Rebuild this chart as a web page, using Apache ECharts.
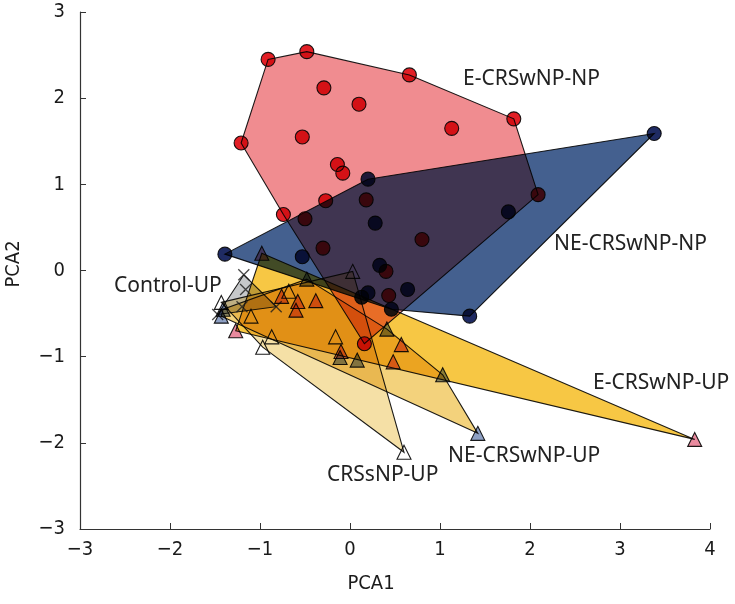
<!DOCTYPE html>
<html><head><meta charset="utf-8">
<script src="https://cdn.jsdelivr.net/npm/echarts@6/dist/echarts.min.js"></script>
<style>html,body{margin:0;padding:0;background:#fff}#c{width:735px;height:604px}</style>
</head><body><div id="c"></div>
<script>
// ---- data (PCA1, PCA2) ----
const eNP = [[-1.21,1.48],[-0.91,2.45],[-0.48,2.54],[-0.29,2.12],[0.10,1.93],[0.66,2.27],[1.13,1.65],[1.82,1.76],
  [-0.53,1.55],[-0.14,1.23],[-0.08,1.13],[-0.74,0.65],[-0.27,0.81],[-0.50,0.60],[0.18,0.82],[-0.30,0.26],
  [0.80,0.36],[2.09,0.88],[0.40,-0.01],[0.43,-0.29],[0.16,-0.85]];
const neNP = [[-1.39,0.19],[-0.53,0.16],[0.20,1.06],[0.28,0.55],[1.76,0.68],[3.38,1.59],[0.33,0.06],
  [0.64,-0.22],[0.20,-0.26],[0.13,-0.31],[0.46,-0.45],[1.33,-0.53]];
const controlUP = [[-1.18,-0.05],[-1.16,-0.22],[-1.20,-0.42],[-0.82,-0.42],[-1.47,-0.51]];
const eUP = [[-0.98,0.20],[-1.27,-0.70],[3.83,-1.96],[-0.76,-0.30],[-0.58,-0.36],[-0.38,-0.35],[-0.60,-0.46],
  [-0.10,-0.94],[0.57,-0.86],[0.48,-1.06]];
const neUP = [[-1.41,-0.45],[-1.43,-0.53],[-0.48,-0.10],[0.41,-0.68],[-0.11,-1.01],[0.08,-1.04],[1.03,-1.21],[1.42,-1.89]];
const crsUP = [[-1.43,-0.37],[-1.10,-0.53],[-0.97,-0.89],[-0.87,-0.77],[-0.16,-0.77],[0.03,-0.01],[0.60,-2.11],[-0.68,-0.24]];
const groupLabels = ['E-CRSwNP-NP','NE-CRSwNP-NP','Control-UP','E-CRSwNP-UP','NE-CRSwNP-UP','CRSsNP-UP'];
const xTicks = [-3,-2,-1,0,1,2,3,4];
const yTicks = [-3,-2,-1,0,1,2,3];

function hull(points){
  const p = points.slice().sort((a,b)=>a[0]-b[0]||a[1]-b[1]);
  const cross=(o,a,b)=>(a[0]-o[0])*(b[1]-o[1])-(a[1]-o[1])*(b[0]-o[0]);
  const lo=[],up=[];
  for(const q of p){while(lo.length>=2&&cross(lo[lo.length-2],lo[lo.length-1],q)<=0)lo.pop();lo.push(q);}
  for(let i=p.length-1;i>=0;i--){const q=p[i];while(up.length>=2&&cross(up[up.length-2],up[up.length-1],q)<=0)up.pop();up.push(q);}
  lo.pop();up.pop();return lo.concat(up);
}
function poly(name, pts, fill){
  const h = hull(pts);
  return {type:'custom', name, blendMode:'multiply', silent:true, z:1,
    data:[h[0]],
    renderItem:(params,api)=>({type:'polygon',
      shape:{points:h.map(p=>api.coord(p))},
      style:{fill, stroke:'#1c1c1c', lineWidth:1.1}})};
}
function pts(name, data, symbol, size, color, border){
  return {type:'scatter', name, data, symbol, symbolSize:size, blendMode:'multiply', z:3, silent:true,
    itemStyle:{color, borderColor:border||'#1c1c1c', borderWidth:1.1, opacity:1}};
}
const cross = 'path://M0,0L10,10M10,0L0,10';
const series = [
  poly(groupLabels[0], eNP, '#f08c90'),
  poly(groupLabels[1], neNP, '#44608f'),
  poly(groupLabels[2], controlUP, '#c6c8ca'),
  poly(groupLabels[3], eUP, '#f7c744'),
  poly(groupLabels[4], neUP, '#f3d27c'),
  poly(groupLabels[5], crsUP, '#f5e0a6'),
  pts(groupLabels[0], eNP, 'circle', 14, '#e21f26'),
  pts(groupLabels[1], neNP, 'circle', 14, '#1f2b63'),
  {type:'scatter', name:groupLabels[2], data:controlUP, symbol:cross, symbolSize:11, z:3, silent:true,
    itemStyle:{color:'rgba(0,0,0,0)', borderColor:'#1c1c1c', borderWidth:1.3}},
  pts(groupLabels[3], eUP, 'triangle', 14, '#e98a9e'),
  pts(groupLabels[4], neUP, 'triangle', 14, '#8ea0c4'),
  pts(groupLabels[5], crsUP, 'triangle', 14, '#ffffff')
];
const fmt = v => String(v).replace('-', '\u2212');
const axisFont = '"Liberation Sans Narrow", "DejaVu Sans Condensed", "Liberation Sans", Arial, sans-serif';
const labelFont = '21px "Noto Sans", sans-serif';
const chart = echarts.init(document.getElementById('c'), null, {renderer:'canvas'});
function txt(t, x, y, align){
  return {type:'text', x, y, silent:true, style:{text:t, font:labelFont, fill:'#222', align:align||'left', verticalAlign:'middle'}};
}
chart.setOption({
  backgroundColor:'#ffffff',
  animation:false,
  grid:{left:80, right:25, top:12, bottom:75},
  xAxis:{type:'value', min:xTicks[0], max:xTicks[xTicks.length-1], interval:1,
    axisLine:{show:true, onZero:false, lineStyle:{color:'#333', width:1.2}},
    axisTick:{show:true, inside:true, length:6, lineStyle:{color:'#333'}},
    splitLine:{show:false},
    axisLabel:{fontSize:20, color:'#1a1a1a', margin:11, fontFamily:axisFont, formatter:fmt}},
  yAxis:{type:'value', min:yTicks[0], max:yTicks[yTicks.length-1], interval:1,
    axisLine:{show:true, onZero:false, lineStyle:{color:'#333', width:1.2}},
    axisTick:{show:true, inside:true, length:6, lineStyle:{color:'#333'}},
    splitLine:{show:false},
    axisLabel:{fontSize:20, color:'#1a1a1a', margin:15, fontFamily:axisFont, formatter:fmt}},
  graphic:[
    txt(groupLabels[0], 463, 79),
    txt(groupLabels[1], 554, 244),
    txt(groupLabels[2], 114, 286),
    txt(groupLabels[3], 593, 383),
    txt(groupLabels[4], 448, 456),
    txt(groupLabels[5], 327, 475),
    {type:'text', x:371, y:584, silent:true, style:{text:'PCA1', font:'20px '+axisFont, fill:'#1a1a1a', align:'center', verticalAlign:'middle'}},
    {type:'text', x:14, y:264, rotation:Math.PI/2, silent:true, style:{text:'PCA2', font:'20px '+axisFont, fill:'#1a1a1a', align:'center', verticalAlign:'middle'}}
  ],
  series
});
</script></body></html>
